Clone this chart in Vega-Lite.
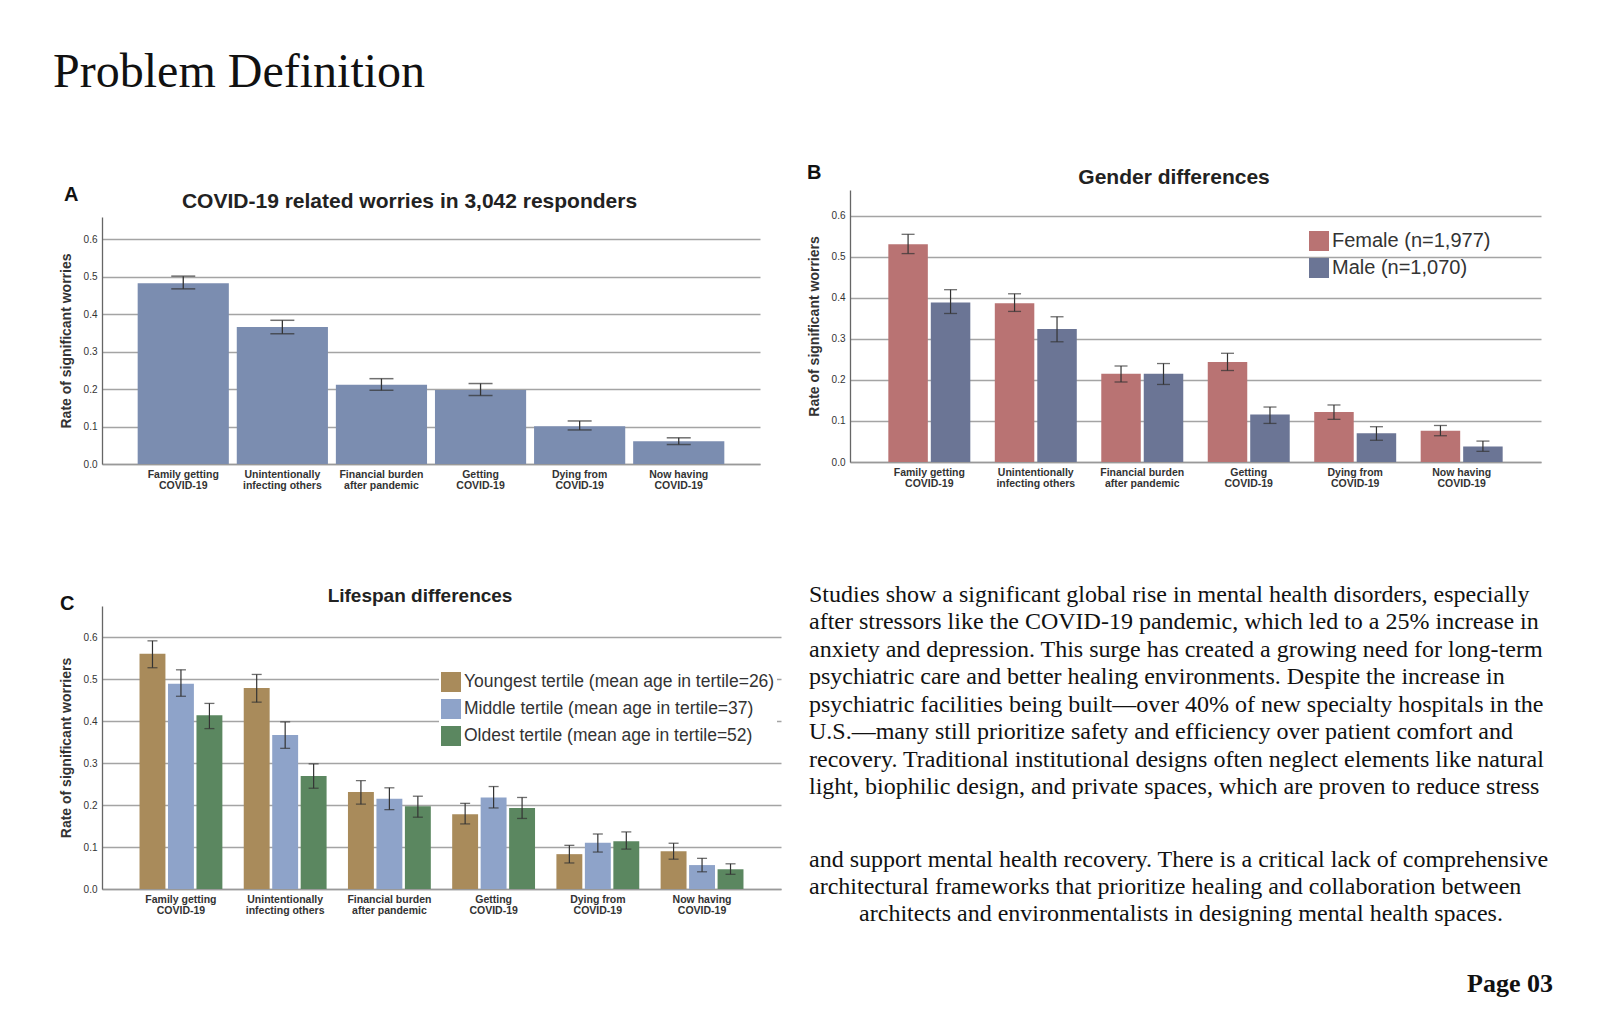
{
  "$schema": "https://vega.github.io/schema/vega-lite/v6.json",
  "background": "white",
  "padding": {"left": 53, "top": 49, "right": 10, "bottom": 10},
  "title": {"text": "Problem Definition", "anchor": "start", "font": "Liberation Serif", "fontSize": 48, "fontWeight": "normal", "color": "#111", "offset": 60, "dx": -6},
  "config": {
    "view": {"stroke": null},
    "font": "Liberation Sans",
    "axis": {"labelFont": "Liberation Sans Narrow, Liberation Sans, sans-serif", "titleFont": "Liberation Sans", "ticks": false, "gridColor": "#a4a4a4", "gridWidth": 1.3, "domainColor": "#666", "labelColor": "#333", "titleColor": "#333"},
    "axisX": {"grid": false, "labelFontSize": 10.5, "labelFontWeight": "bold", "labelPadding": 5, "labelAngle": 0, "domainColor": "#999", "domainWidth": 1.3, "labelLineHeight": 11, "labelOverlap": false},
    "axisY": {"labelFontSize": 10, "labelPadding": 5, "titleFontSize": 14, "titleFontWeight": "bold", "titlePadding": 10, "domainWidth": 1.3, "format": ".1f", "values": [0, 0.1, 0.2, 0.3, 0.4, 0.5, 0.6]},
    "title": {"font": "Liberation Sans", "color": "#222", "fontWeight": "bold"},
    "legend": {"symbolType": "square", "symbolSize": 400, "symbolStrokeWidth": 0, "labelFont": "Liberation Sans", "labelColor": "#333", "rowPadding": 7, "labelOffset": 3, "padding": 2}
  },
  "datasets": {
    "A": [
      {"worry": "Family getting\nCOVID-19", "rate": 0.483, "lo": 0.468, "hi": 0.502},
      {"worry": "Unintentionally\ninfecting others", "rate": 0.366, "lo": 0.348, "hi": 0.384},
      {"worry": "Financial burden\nafter pandemic", "rate": 0.212, "lo": 0.197, "hi": 0.228},
      {"worry": "Getting\nCOVID-19", "rate": 0.198, "lo": 0.183, "hi": 0.215},
      {"worry": "Dying from\nCOVID-19", "rate": 0.101, "lo": 0.091, "hi": 0.115},
      {"worry": "Now having\nCOVID-19", "rate": 0.061, "lo": 0.052, "hi": 0.070}
    ],
    "B": [
      {"worry": "Family getting\nCOVID-19", "gender": "Female (n=1,977)", "rate": 0.531, "lo": 0.508, "hi": 0.555},
      {"worry": "Family getting\nCOVID-19", "gender": "Male (n=1,070)", "rate": 0.389, "lo": 0.362, "hi": 0.420},
      {"worry": "Unintentionally\ninfecting others", "gender": "Female (n=1,977)", "rate": 0.387, "lo": 0.367, "hi": 0.410},
      {"worry": "Unintentionally\ninfecting others", "gender": "Male (n=1,070)", "rate": 0.324, "lo": 0.293, "hi": 0.354},
      {"worry": "Financial burden\nafter pandemic", "gender": "Female (n=1,977)", "rate": 0.215, "lo": 0.195, "hi": 0.234},
      {"worry": "Financial burden\nafter pandemic", "gender": "Male (n=1,070)", "rate": 0.215, "lo": 0.189, "hi": 0.240},
      {"worry": "Getting\nCOVID-19", "gender": "Female (n=1,977)", "rate": 0.244, "lo": 0.223, "hi": 0.265},
      {"worry": "Getting\nCOVID-19", "gender": "Male (n=1,070)", "rate": 0.116, "lo": 0.094, "hi": 0.134},
      {"worry": "Dying from\nCOVID-19", "gender": "Female (n=1,977)", "rate": 0.122, "lo": 0.104, "hi": 0.139},
      {"worry": "Dying from\nCOVID-19", "gender": "Male (n=1,070)", "rate": 0.070, "lo": 0.053, "hi": 0.086},
      {"worry": "Now having\nCOVID-19", "gender": "Female (n=1,977)", "rate": 0.076, "lo": 0.064, "hi": 0.089},
      {"worry": "Now having\nCOVID-19", "gender": "Male (n=1,070)", "rate": 0.038, "lo": 0.026, "hi": 0.051}
    ],
    "C": [
      {"worry": "Family getting\nCOVID-19", "age": "Youngest tertile (mean age in tertile=26)", "rate": 0.560, "lo": 0.527, "hi": 0.591},
      {"worry": "Family getting\nCOVID-19", "age": "Middle tertile (mean age in tertile=37)", "rate": 0.489, "lo": 0.459, "hi": 0.522},
      {"worry": "Family getting\nCOVID-19", "age": "Oldest tertile (mean age in tertile=52)", "rate": 0.414, "lo": 0.382, "hi": 0.442},
      {"worry": "Unintentionally\ninfecting others", "age": "Youngest tertile (mean age in tertile=26)", "rate": 0.479, "lo": 0.445, "hi": 0.511},
      {"worry": "Unintentionally\ninfecting others", "age": "Middle tertile (mean age in tertile=37)", "rate": 0.367, "lo": 0.335, "hi": 0.398},
      {"worry": "Unintentionally\ninfecting others", "age": "Oldest tertile (mean age in tertile=52)", "rate": 0.269, "lo": 0.240, "hi": 0.298},
      {"worry": "Financial burden\nafter pandemic", "age": "Youngest tertile (mean age in tertile=26)", "rate": 0.231, "lo": 0.202, "hi": 0.258},
      {"worry": "Financial burden\nafter pandemic", "age": "Middle tertile (mean age in tertile=37)", "rate": 0.215, "lo": 0.189, "hi": 0.241},
      {"worry": "Financial burden\nafter pandemic", "age": "Oldest tertile (mean age in tertile=52)", "rate": 0.197, "lo": 0.171, "hi": 0.221},
      {"worry": "Getting\nCOVID-19", "age": "Youngest tertile (mean age in tertile=26)", "rate": 0.178, "lo": 0.155, "hi": 0.204},
      {"worry": "Getting\nCOVID-19", "age": "Middle tertile (mean age in tertile=37)", "rate": 0.218, "lo": 0.193, "hi": 0.244},
      {"worry": "Getting\nCOVID-19", "age": "Oldest tertile (mean age in tertile=52)", "rate": 0.193, "lo": 0.168, "hi": 0.218},
      {"worry": "Dying from\nCOVID-19", "age": "Youngest tertile (mean age in tertile=26)", "rate": 0.083, "lo": 0.062, "hi": 0.104},
      {"worry": "Dying from\nCOVID-19", "age": "Middle tertile (mean age in tertile=37)", "rate": 0.110, "lo": 0.088, "hi": 0.131},
      {"worry": "Dying from\nCOVID-19", "age": "Oldest tertile (mean age in tertile=52)", "rate": 0.114, "lo": 0.095, "hi": 0.136},
      {"worry": "Now having\nCOVID-19", "age": "Youngest tertile (mean age in tertile=26)", "rate": 0.090, "lo": 0.071, "hi": 0.109},
      {"worry": "Now having\nCOVID-19", "age": "Middle tertile (mean age in tertile=37)", "rate": 0.057, "lo": 0.041, "hi": 0.073},
      {"worry": "Now having\nCOVID-19", "age": "Oldest tertile (mean age in tertile=52)", "rate": 0.047, "lo": 0.035, "hi": 0.060}
    ]
  },
  "spacing": 26,
  "resolve": {"scale": {"x": "independent", "y": "independent", "color": "independent", "xOffset": "independent"}, "legend": {"color": "independent"}},
  "hconcat": [
    {
      "spacing": 0,
      "resolve": {"scale": {"x": "independent", "y": "independent", "color": "independent", "xOffset": "independent"}, "legend": {"color": "independent"}},
      "vconcat": [
        {"width": 10, "height": 28, "data": {"values": []}, "mark": "point"},
        {
          "spacing": 96,
          "resolve": {"scale": {"x": "independent", "y": "independent", "color": "independent", "xOffset": "independent"}, "legend": {"color": "independent"}},
          "vconcat": [
            {
              "title": {"text": "A", "anchor": "start", "fontSize": 20, "fontWeight": "bold", "color": "#111", "offset": -14, "dx": 5},
              "vconcat": [
                {
                  "width": 658, "height": 247,
                  "title": {"text": "COVID-19 related worries in 3,042 responders", "fontSize": 21, "offset": 5, "frame": "bounds"},
                  "data": {"name": "A"},
                  "encoding": {
                    "x": {"field": "worry", "type": "nominal", "sort": null, "title": null, "scale": {"paddingInner": 0.08, "paddingOuter": 0.36}, "axis": {"labelExpr": "split(datum.label, '\\n')"}}
                  },
                  "layer": [
                    {"mark": {"type": "bar", "color": "#7b8db0"}, "encoding": {"y": {"field": "rate", "type": "quantitative", "title": "Rate of significant worries", "scale": {"domain": [0, 0.66], "nice": false}}}},
                    {"mark": {"type": "rule", "color": "#333", "strokeWidth": 1.3}, "encoding": {"y": {"field": "lo", "type": "quantitative", "title": "Rate of significant worries"}, "y2": {"field": "hi"}}},
                    {"mark": {"type": "tick", "color": "#333", "thickness": 1.5, "size": 24}, "encoding": {"y": {"field": "lo", "type": "quantitative", "title": "Rate of significant worries"}}},
                    {"mark": {"type": "tick", "color": "#333", "thickness": 1.5, "size": 24}, "encoding": {"y": {"field": "hi", "type": "quantitative", "title": "Rate of significant worries"}}}
                  ]
                }
              ]
            },
            {
              "title": {"text": "C", "anchor": "start", "fontSize": 20, "fontWeight": "bold", "color": "#111", "offset": -27, "dx": 1},
              "vconcat": [
                {
                  "width": 679, "height": 283,
                  "title": {"text": "Lifespan differences", "fontSize": 19, "offset": 0, "frame": "bounds"},
                  "data": {"name": "C"},
                  "encoding": {
                    "x": {"field": "worry", "type": "nominal", "sort": null, "title": null, "scale": {"paddingInner": 0.205, "paddingOuter": 0.36}, "axis": {"labelExpr": "split(datum.label, '\\n')"}},
                    "xOffset": {"field": "age", "type": "nominal", "sort": null, "scale": {"paddingInner": 0.09, "paddingOuter": 0}}
                  },
                  "layer": [
                    {"mark": {"type": "bar"}, "encoding": {
                      "y": {"field": "rate", "type": "quantitative", "title": "Rate of significant worriers", "scale": {"domain": [0, 0.674], "nice": false}},
                      "color": {"field": "age", "type": "nominal", "sort": null, "scale": {"domain": ["Youngest tertile (mean age in tertile=26)", "Middle tertile (mean age in tertile=37)", "Oldest tertile (mean age in tertile=52)"], "range": ["#a98b5b", "#8ea3c9", "#5b8760"]},
                        "legend": {"title": null, "orient": "none", "legendX": 337, "legendY": 64, "labelFontSize": 17.5, "labelLimit": 420, "fillColor": "white"}}
                    }},
                    {"mark": {"type": "rule", "color": "#333", "strokeWidth": 1.2}, "encoding": {"y": {"field": "lo", "type": "quantitative", "title": "Rate of significant worriers"}, "y2": {"field": "hi"}}},
                    {"mark": {"type": "tick", "color": "#333", "thickness": 1.3, "size": 10}, "encoding": {"y": {"field": "lo", "type": "quantitative", "title": "Rate of significant worriers"}}},
                    {"mark": {"type": "tick", "color": "#333", "thickness": 1.3, "size": 10}, "encoding": {"y": {"field": "hi", "type": "quantitative", "title": "Rate of significant worriers"}}}
                  ]
                }
              ]
            }
          ]
        }
      ]
    },
    {
      "spacing": 0,
      "resolve": {"scale": {"x": "independent", "y": "independent", "color": "independent", "xOffset": "independent"}, "legend": {"color": "independent"}},
      "vconcat": [
        {"width": 10, "height": 6, "data": {"values": []}, "mark": "point"},
        {
          "spacing": 44,
          "resolve": {"scale": {"x": "independent", "y": "independent", "color": "independent", "xOffset": "independent"}, "legend": {"color": "independent"}},
          "vconcat": [
            {
              "spacing": 93,
              "resolve": {"scale": {"x": "independent", "y": "independent", "color": "independent", "xOffset": "independent"}, "legend": {"color": "independent"}},
              "vconcat": [
                {
                  "title": {"text": "B", "anchor": "start", "fontSize": 20, "fontWeight": "bold", "color": "#111", "offset": -16, "dx": 0},
                  "vconcat": [
                    {
                      "width": 691, "height": 272,
                      "title": {"text": "Gender differences", "fontSize": 21, "offset": 2, "frame": "bounds"},
                      "data": {"name": "B"},
                      "encoding": {
                        "x": {"field": "worry", "type": "nominal", "sort": null, "title": null, "scale": {"paddingInner": 0.23, "paddingOuter": 0.36}, "axis": {"labelExpr": "split(datum.label, '\\n')"}},
                        "xOffset": {"field": "gender", "type": "nominal", "sort": null, "scale": {"paddingInner": 0.07, "paddingOuter": 0}}
                      },
                      "layer": [
                        {"mark": {"type": "bar"}, "encoding": {
                          "y": {"field": "rate", "type": "quantitative", "title": "Rate of significant worriers", "scale": {"domain": [0, 0.663], "nice": false}},
                          "color": {"field": "gender", "type": "nominal", "sort": null, "scale": {"domain": ["Female (n=1,977)", "Male (n=1,070)"], "range": ["#b97373", "#6b7595"]},
                            "legend": {"title": null, "orient": "none", "legendX": 457, "legendY": 39, "labelFontSize": 20, "labelLimit": 400}}
                        }},
                        {"mark": {"type": "rule", "color": "#333", "strokeWidth": 1.2}, "encoding": {"y": {"field": "lo", "type": "quantitative", "title": "Rate of significant worriers"}, "y2": {"field": "hi"}}},
                        {"mark": {"type": "tick", "color": "#333", "thickness": 1.3, "size": 13}, "encoding": {"y": {"field": "lo", "type": "quantitative", "title": "Rate of significant worriers"}}},
                        {"mark": {"type": "tick", "color": "#333", "thickness": 1.3, "size": 13}, "encoding": {"y": {"field": "hi", "type": "quantitative", "title": "Rate of significant worriers"}}}
                      ]
                    }
                  ]
                },
                {
                  "spacing": 47,
                  "vconcat": [
                    {
                      "width": 700, "height": 1,
                      "data": {"values": []},
                      "mark": "point",
                      "title": {
                        "text": [
                          "Studies show a significant global rise in mental health disorders, especially",
                          "after stressors like the COVID-19 pandemic, which led to a 25% increase in",
                          "anxiety and depression. This surge has created a growing need for long-term",
                          "psychiatric care and better healing environments. Despite the increase in",
                          "psychiatric facilities being built—over 40% of new specialty hospitals in the",
                          "U.S.—many still prioritize safety and efficiency over patient comfort and",
                          "recovery. Traditional institutional designs often neglect elements like natural",
                          "light, biophilic design, and private spaces, which are proven to reduce stress"
                        ],
                        "anchor": "start", "frame": "group", "font": "Liberation Serif", "fontSize": 24, "fontWeight": "normal", "lineHeight": 27.5, "color": "#111", "dx": -41, "offset": 0
                      }
                    },
                    {
                      "spacing": 2,
                      "vconcat": [
                        {
                          "width": 700, "height": 1,
                          "data": {"values": []},
                          "mark": "point",
                          "title": {
                            "text": [
                              "and support mental health recovery. There is a critical lack of comprehensive",
                              "architectural frameworks that prioritize healing and collaboration between"
                            ],
                            "anchor": "start", "frame": "group", "font": "Liberation Serif", "fontSize": 24, "fontWeight": "normal", "lineHeight": 27.5, "color": "#111", "dx": -41, "offset": 0
                          }
                        },
                        {
                          "width": 700, "height": 1,
                          "data": {"values": []},
                          "mark": "point",
                          "title": {
                            "text": "architects and environmentalists in designing mental health spaces.",
                            "anchor": "middle", "frame": "group", "font": "Liberation Serif", "fontSize": 24, "fontWeight": "normal", "lineHeight": 27.5, "color": "#111", "dx": -19, "offset": 0
                          }
                        }
                      ]
                    }
                  ]
                }
              ]
            },
            {
              "width": 703, "height": 1,
              "data": {"values": []},
              "mark": "point",
              "title": {"text": "Page 03", "anchor": "end", "frame": "group", "font": "Liberation Serif", "fontSize": 26, "fontWeight": "bold", "color": "#111", "offset": 2}
            }
          ]
        }
      ]
    }
  ]
}
